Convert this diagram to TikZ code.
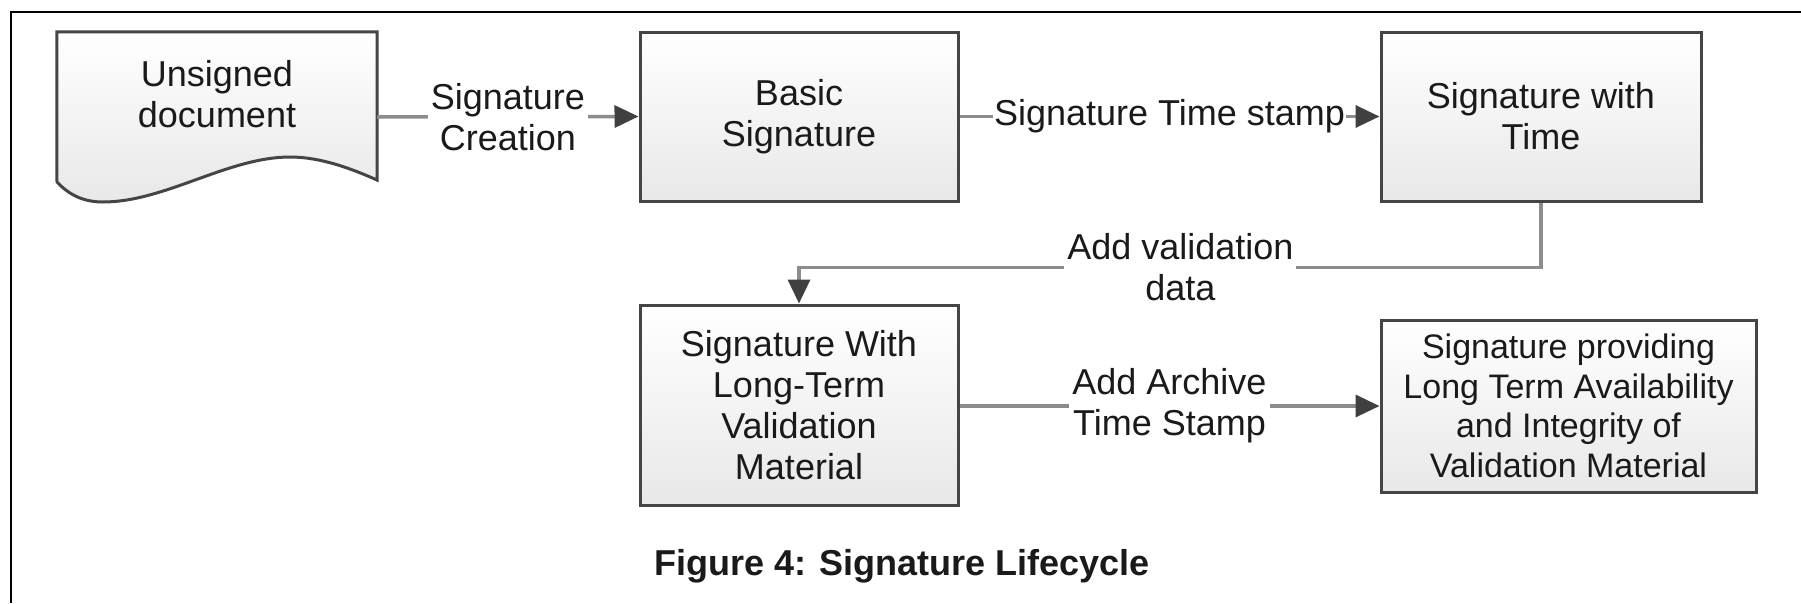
\documentclass[tikz,border=0pt]{standalone}
\usepackage{fontspec}
\setmainfont{Liberation Sans}
\usetikzlibrary{arrows.meta,calc}

\definecolor{boxline}{HTML}{454545}
\definecolor{connline}{HTML}{8C8C8C}
\definecolor{tipfill}{HTML}{404040}
\definecolor{inktext}{HTML}{1A1A1A}
\definecolor{boxbottom}{HTML}{E8E8E8}

\tikzset{
  stage/.style={draw=boxline, line width=3pt, top color=white, bottom color=boxbottom,
    align=center, text=inktext, font=\fontsize{36}{41}\selectfont, inner sep=0pt},
  conn/.style={draw=connline, line width=3.5pt,
    -{Triangle[length=24pt,width=22pt,color=tipfill]}},
  flowlabel/.style={fill=white, text=inktext, align=center,
    font=\fontsize{36}{41}\selectfont, inner xsep=3pt, inner ysep=1pt},
  docarea/.style={minimum width=320pt, minimum height=170pt, inner sep=0pt},
}

\begin{document}
\begin{tikzpicture}[x=1pt,y=-1pt]
\useasboundingbox (0,0) rectangle (1801,603);
\fill[white] (0,0) rectangle (1801,603);

% outer frame (only the left and top edges fall inside the page)
\draw[line width=2pt] (11,603) -- (11,12) -- (1801,12);

% document shape with wavy lower edge
\node[docarea] (doc) at (217,117) {};
\draw[boxline, line width=3pt, top color=white, bottom color=boxbottom]
  (doc.north west) -- (doc.north east) -- (377,180)
  .. controls (350,168) and (320,157) .. (290,157)
  .. controls (228,157) and (165,202) .. (103,202)
  .. controls (85,202) and (70,196) .. (57,182) -- cycle;
\node[text=inktext, align=center, font=\fontsize{36}{41}\selectfont]
  (doctext) at ($(doc.center)+(0,-23)$) {Unsigned\\document};

% lifecycle stages
\node[stage, minimum width=318pt, minimum height=169pt] (basic) at (799,116.5) {Basic\\Signature};
\node[stage, minimum width=320pt, minimum height=169pt] (swt) at (1541,116.5) {Signature with\\Time};
\node[stage, minimum width=318pt, minimum height=200pt] (lt) at (799,405) {Signature With\\Long-Term\\Validation\\Material};
\node[stage, minimum width=375pt, minimum height=172pt, font=\fontsize{34}{39.5}\selectfont]
  (prov) at (1568.5,406) {Signature providing\\Long Term Availability\\and Integrity of\\Validation Material};

% transitions
\draw[conn] (doc.east) -- node[flowlabel] {Signature\\Creation} (basic.west);
\draw[conn] (basic.east) -- node[flowlabel, inner xsep=1pt] {Signature Time stamp} (swt.west);
\draw[conn] (swt.south) -- ++(0,65) -| node[flowlabel, pos=0.243] {Add validation\\data} (lt.north);
\draw[conn] (lt.east |- prov.west) -- node[flowlabel] {Add Archive\\Time Stamp} (prov.west);

% caption
\node[text=inktext, font=\bfseries\fontsize{36}{41}\selectfont] (caption) at (902,566) {Figure 4: Signature Lifecycle};
\end{tikzpicture}
\end{document}
